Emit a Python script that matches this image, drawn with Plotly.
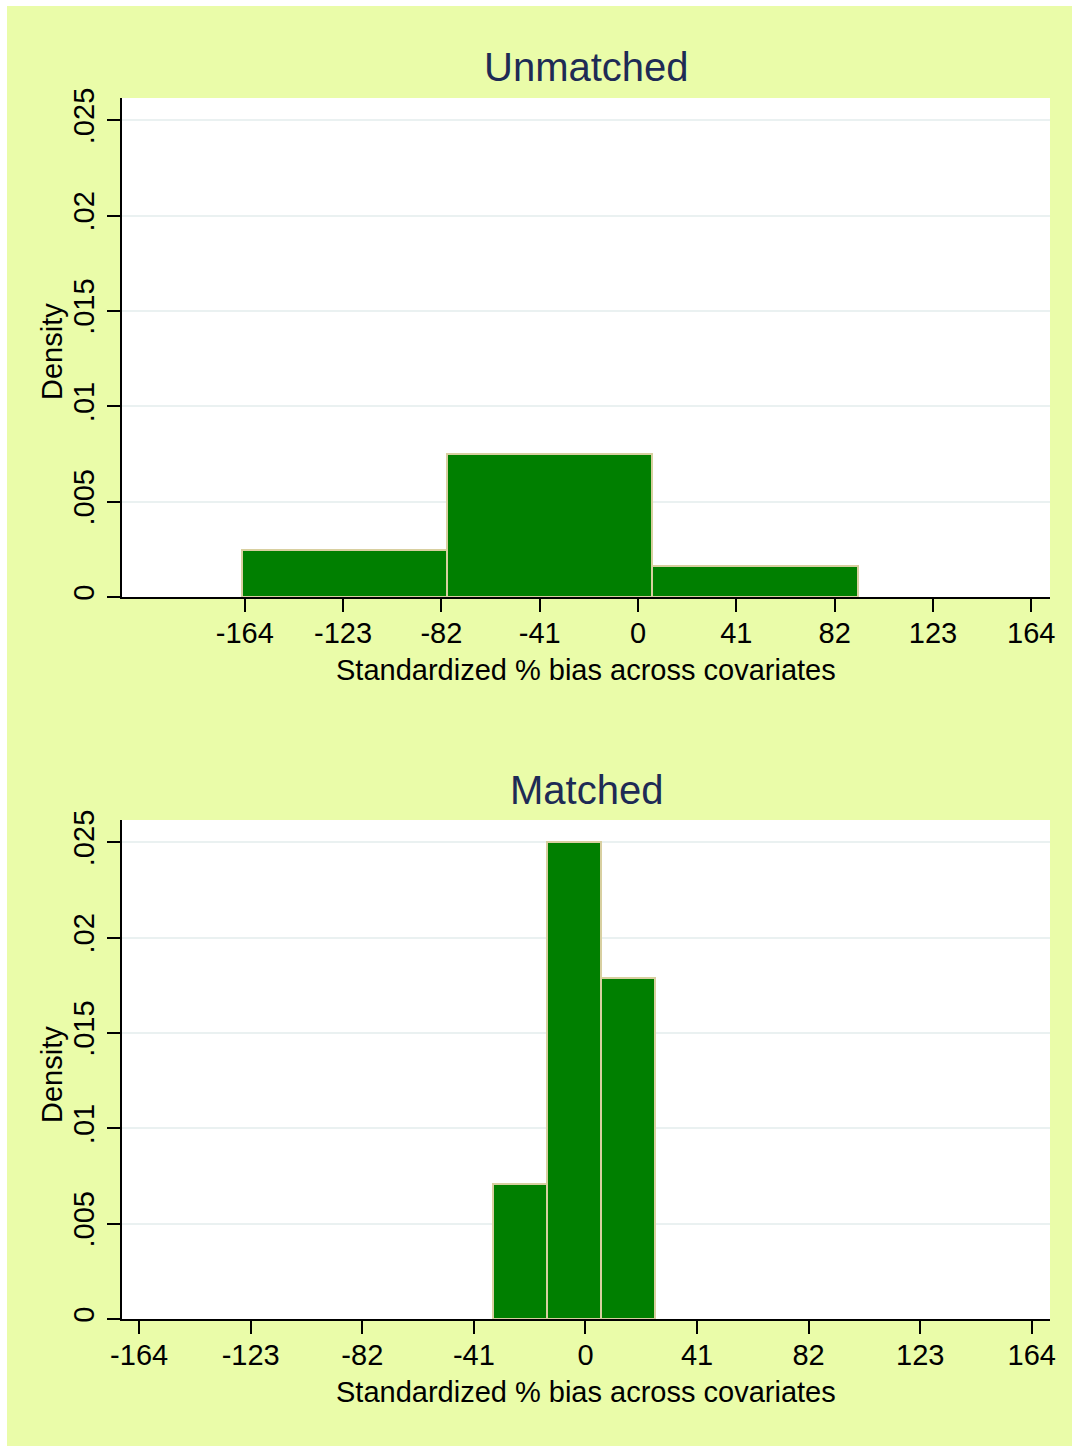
import numpy as np
import plotly.graph_objects as go
from plotly.subplots import make_subplots

# Histogram bins (edges) and densities for the two panels
unmatched_edges = [-165.3, -79.63, 6.03, 91.7]
unmatched_density = [0.00248, 0.0075, 0.00165]
matched_edges = [-33.9, -14.07, 5.76, 25.6]
matched_density = [0.0071, 0.0250, 0.0179]

panel_titles = ["Unmatched", "Matched"]
x_ticks = [-164, -123, -82, -41, 0, 41, 82, 123, 164]
x_ticklabels = ["-164", "-123", "-82", "-41", "0", "41", "82", "123", "164"]
y_ticks = [0, 0.005, 0.01, 0.015, 0.02, 0.025]
y_ticklabels = ["0", ".005", ".01", ".015", ".02", ".025"]
x_title = "Standardized % bias across covariates"
y_title = "Density"

W, H = 1072, 1446
ML, MR, MT, MB = 122, 22, 98, 127
PW, PH = W - ML - MR, H - MT - MB

def px_x(p):
    return (p - ML) / PW

def px_y(p):
    return (H - MB - p) / PH

BG = "#EAFCA9"
BAR = "#007F00"
EDGE = "#D8CFA0"
GRID = "#EAF1F1"
NAVY = "#1E2B55"
FONT = "Liberation Sans, Arial, sans-serif"

fig = make_subplots(rows=2, cols=1, vertical_spacing=0.0)

for row, (edges, dens) in enumerate([(unmatched_edges, unmatched_density),
                                     (matched_edges, matched_density)], start=1):
    edges = np.asarray(edges)
    fig.add_trace(go.Bar(
        x=edges[:-1], y=dens, width=np.diff(edges), offset=0,
        marker=dict(color=BAR, line=dict(color=EDGE, width=2)),
        showlegend=False, hoverinfo="skip"), row=row, col=1)

top_dom = [px_y(597), 1.0]
bot_dom = [0.0, px_y(820)]

axis_common = dict(showline=True, linecolor="black", linewidth=1.5,
                   ticks="outside", ticklen=13, tickwidth=1.5, tickcolor="black",
                   zeroline=False, automargin=False,
                   tickfont=dict(family=FONT, size=29, color="black"))

xaxis_common = dict(domain=[0, 1], tickvals=x_ticks, ticktext=x_ticklabels,
                    showgrid=False, ticklabelstandoff=-4, **axis_common)
yaxis_common = dict(range=[0, 0.02617], tickvals=y_ticks, ticktext=y_ticklabels,
                    tickangle=-90, showgrid=True, gridcolor=GRID, gridwidth=2,
                    ticklabelstandoff=2, **axis_common)

fig.update_layout(
    width=W, height=H,
    margin=dict(l=ML, r=MR, t=MT, b=MB),
    paper_bgcolor=BG, plot_bgcolor="white",
    bargap=0,
    xaxis=dict(range=[-215.2, 171.8], anchor="y", **xaxis_common),
    yaxis=dict(domain=top_dom, anchor="x", **yaxis_common),
    xaxis2=dict(range=[-170.3, 170.7], anchor="y2", **xaxis_common),
    yaxis2=dict(domain=bot_dom, anchor="x2", **yaxis_common),
)

# thin white strip along the top and left edges of the page
fig.add_shape(type="rect", xref="paper", yref="paper",
              x0=px_x(0), x1=px_x(W), y0=px_y(6), y1=px_y(0),
              fillcolor="white", line_width=0, layer="below")
fig.add_shape(type="rect", xref="paper", yref="paper",
              x0=px_x(0), x1=px_x(7), y0=px_y(H), y1=px_y(0),
              fillcolor="white", line_width=0, layer="below")

# panel titles and axis titles
title_y = [67, 790]
xtitle_y = [670, 1392]
ytitle_y = [352, 1075]
for i in range(2):
    fig.add_annotation(text=panel_titles[i], xref="paper", yref="paper",
                       x=px_x(586), y=px_y(title_y[i]), showarrow=False,
                       xanchor="center", yanchor="middle",
                       font=dict(family=FONT, size=40, color=NAVY))
    fig.add_annotation(text=x_title, xref="paper", yref="paper",
                       x=px_x(586), y=px_y(xtitle_y[i]), showarrow=False,
                       xanchor="center", yanchor="middle",
                       font=dict(family=FONT, size=29, color="black"))
    fig.add_annotation(text=y_title, xref="paper", yref="paper",
                       x=px_x(52), y=px_y(ytitle_y[i]), showarrow=False,
                       textangle=-90, xanchor="center", yanchor="middle",
                       font=dict(family=FONT, size=29, color="black"))

fig.write_html("out.html")
